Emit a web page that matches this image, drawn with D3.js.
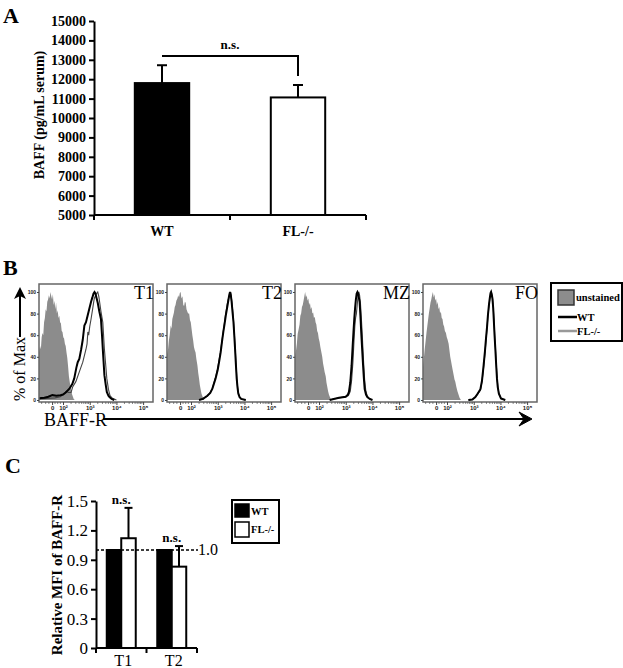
<!DOCTYPE html>
<html><head><meta charset="utf-8">
<script src="https://cdn.jsdelivr.net/npm/d3@7"></script>
<style>body{margin:0;background:#fff} svg{display:block}</style>
</head><body>
<script>
// ---------- Panel A data ----------
const groupsA = ["WT", "FL-/-"];
const baffMean = [11800, 11060];
const baffErr = [920, 640];
const baffTicks = [5000, 6000, 7000, 8000, 9000, 10000, 11000, 12000, 13000, 14000, 15000];

// ---------- Panel B data ([log channel, % of max]) ----------
const subsetsB = ["T1", "T2", "MZ", "FO"];
const flowTickValues = [1.59, 2, 3, 4, 5];
const flowTickLabels = ["0", "10\u00B2", "10\u00B3", "10\u2074", "10\u2075"];
const pctTicks = [0, 20, 40, 60, 80, 100];

const unstainedT1 = [[1.10,0],[1.10,44],[1.14,50],[1.17,47],[1.20,58],[1.23,62],[1.26,60],[1.29,72],[1.32,76],[1.35,84],[1.38,82],[1.41,91],[1.44,93],[1.47,97],[1.50,94],[1.53,100],[1.56,96],[1.59,93],[1.62,98],[1.65,88],[1.68,92],[1.71,84],[1.74,90],[1.77,80],[1.80,83],[1.83,76],[1.86,78],[1.89,72],[1.92,71],[1.95,64],[1.98,63],[2.01,58],[2.04,57],[2.07,52],[2.10,50],[2.13,44],[2.16,39],[2.19,31],[2.22,22],[2.25,17],[2.28,12],[2.31,8],[2.34,5],[2.37,3],[2.40,1],[2.44,0]];
const unstainedT2 = [[1.10,0],[1.10,42],[1.14,47],[1.17,55],[1.20,60],[1.24,69],[1.27,66],[1.30,75],[1.33,78],[1.36,81],[1.39,86],[1.42,88],[1.45,92],[1.49,94],[1.52,97],[1.55,95],[1.58,99],[1.61,100],[1.64,94],[1.68,96],[1.71,88],[1.74,87],[1.77,91],[1.80,90],[1.83,84],[1.86,82],[1.89,80],[1.93,80],[1.96,74],[1.99,72],[2.02,66],[2.05,60],[2.08,55],[2.11,49],[2.14,46],[2.17,44],[2.20,38],[2.24,32],[2.27,25],[2.30,20],[2.33,14],[2.36,10],[2.39,6],[2.42,4],[2.46,1.5],[2.49,0]];
const unstainedMZ = [[1.10,0],[1.10,40],[1.14,46],[1.17,52],[1.20,61],[1.24,66],[1.27,70],[1.30,78],[1.33,80],[1.36,86],[1.39,88],[1.42,92],[1.45,96],[1.48,100],[1.51,95],[1.54,97],[1.57,92],[1.60,94],[1.63,88],[1.66,90],[1.69,84],[1.72,86],[1.75,80],[1.78,81],[1.81,76],[1.84,77],[1.87,72],[1.90,70],[1.93,64],[1.96,62],[1.99,57],[2.02,54],[2.05,49],[2.09,44],[2.12,40],[2.15,34],[2.18,30],[2.21,26],[2.25,22],[2.28,16],[2.31,12],[2.34,8],[2.37,5],[2.41,2.5],[2.44,1],[2.47,0]];
const unstainedFO = [[1.10,0],[1.10,30],[1.13,38],[1.16,46],[1.20,55],[1.23,62],[1.26,68],[1.29,74],[1.32,80],[1.35,85],[1.38,90],[1.41,93],[1.44,97],[1.47,100],[1.50,95],[1.53,98],[1.56,92],[1.59,94],[1.62,88],[1.65,91],[1.68,84],[1.71,86],[1.74,80],[1.77,82],[1.80,76],[1.83,75],[1.86,70],[1.89,68],[1.92,64],[1.96,62],[1.99,58],[2.02,56],[2.06,52],[2.09,46],[2.12,40],[2.15,36],[2.18,32],[2.21,28],[2.25,23],[2.28,19],[2.31,17],[2.35,12],[2.39,8],[2.43,5],[2.47,2],[2.52,0]];

const wtT1 = [[1.10,1.5],[1.30,2],[1.45,3],[1.60,4.5],[1.75,4],[1.90,4.5],[2.00,5],[2.10,7],[2.24,10.5],[2.35,15],[2.42,20],[2.50,30],[2.55,35],[2.61,38],[2.68,47],[2.74,56],[2.80,69],[2.86,72],[2.92,78],[2.98,84],[3.05,91],[3.10,95],[3.14,98.5],[3.18,100],[3.21,99],[3.26,94],[3.30,90],[3.36,82],[3.42,75],[3.46,60],[3.49,47],[3.52,35],[3.55,23],[3.60,14],[3.64,7.5],[3.70,4],[3.74,2.8],[3.82,1],[3.92,0]];
const flT1 = [[1.10,1],[1.40,1.5],[1.70,2],[1.90,3],[2.05,6],[2.12,8],[2.20,7],[2.30,7],[2.36,12],[2.48,17],[2.61,26],[2.74,35],[2.86,47],[2.90,52],[2.93,63],[2.96,60],[3.00,68],[3.05,75],[3.12,86],[3.17,94],[3.24,98],[3.30,100],[3.34,96],[3.37,91],[3.42,82],[3.49,72],[3.55,47],[3.64,20],[3.70,10],[3.76,4],[3.85,1.5],[4.00,0]];
const wtT2 = [[2.30,0],[2.45,1],[2.61,4],[2.72,6.5],[2.80,10.5],[2.92,20],[3.00,28],[3.05,35],[3.11,44],[3.16,54],[3.21,63],[3.26,71],[3.30,78],[3.35,85],[3.39,91],[3.43,97],[3.46,100],[3.49,97],[3.52,91],[3.56,80],[3.59,72],[3.62,60],[3.65,47],[3.68,33],[3.71,20],[3.74,12],[3.77,6],[3.82,2.5],[3.88,1],[4.05,0]];
const flT2 = [[2.30,0],[2.45,1.5],[2.61,3.5],[2.72,7],[2.80,11],[2.92,21],[3.00,30],[3.05,37],[3.11,46],[3.16,55],[3.21,64],[3.26,73],[3.30,80],[3.35,88],[3.39,93],[3.43,96],[3.46,98],[3.49,99],[3.52,93],[3.56,83],[3.59,74],[3.62,62],[3.65,50],[3.68,36],[3.71,23],[3.74,13],[3.77,7],[3.82,3],[3.88,1],[4.05,0]];
const wtMZ = [[2.40,0],[2.55,1],[2.75,2],[3.00,3],[3.08,5],[3.12,7.5],[3.17,16],[3.22,32],[3.26,50],[3.29,63],[3.32,75],[3.35,85],[3.38,93],[3.41,98.5],[3.44,100],[3.46,99],[3.49,95],[3.52,91],[3.55,78],[3.58,63],[3.62,45],[3.65,32],[3.68,20],[3.71,10],[3.76,5],[3.81,2.8],[3.90,1],[4.00,0]];
const flMZ = [[2.40,0],[2.55,1],[2.75,2],[3.00,3],[3.10,4],[3.17,8],[3.22,18],[3.27,35],[3.31,55],[3.34,68],[3.37,76],[3.40,80],[3.43,88],[3.46,96],[3.49,100],[3.52,97],[3.55,90],[3.58,78],[3.62,60],[3.65,44],[3.68,30],[3.71,18],[3.75,9],[3.80,4],[3.86,1.5],[4.00,0]];
const wtFO = [[2.80,0],[2.95,0.5],[3.06,2.8],[3.15,6],[3.25,10],[3.31,18],[3.37,32],[3.42,45],[3.46,57],[3.50,68],[3.53,78],[3.57,88],[3.60,94],[3.63,99],[3.65,100],[3.68,97],[3.70,94],[3.73,85],[3.75,75],[3.78,60],[3.81,47],[3.84,33],[3.87,20],[3.90,12],[3.94,6],[4.02,1.5],[4.18,0]];
const flFO = [[2.80,0],[2.95,0.5],[3.06,2.5],[3.15,5.5],[3.25,9],[3.31,17],[3.37,30],[3.42,43],[3.46,55],[3.50,67],[3.53,77],[3.57,87],[3.60,93],[3.63,98],[3.66,100],[3.68,98],[3.71,93],[3.73,86],[3.76,74],[3.79,58],[3.82,45],[3.85,31],[3.88,19],[3.91,11],[3.95,5],[4.03,1.2],[4.18,0]];

// ---------- Panel C data ----------
const subsetsC = ["T1", "T2"];
const genotypesC = ["WT", "FL-/-"];
const mfiWT = [1.0, 1.0];
const mfiFL = [1.12, 0.83];
const mfiFLErr = [0.31, 0.21];
const mfiTicks = [0, 0.3, 0.6, 0.9, 1.2, 1.5];

const SERIF = "'Liberation Serif','Times New Roman',serif";
const SANS = "'Liberation Sans',Arial,sans-serif";

const svg = d3.select("body").append("svg").attr("width", 623).attr("height", 668);
svg.append("rect").attr("width", 623).attr("height", 668).attr("fill", "#fff");

// ================= Panel A =================
const gA = svg.append("g");
gA.append("text").attr("x", 3).attr("y", 23).text("A")
  .attr("font-family", SERIF).attr("font-weight", "bold").attr("font-size", 22);

const yA = d3.scaleLinear().domain([5000, 15000]).range([215, 21]);
const xA = d3.scaleBand().domain(groupsA).range([94, 366]);
const barWA = xA.bandwidth() * 0.4;

const axYA = gA.append("g").attr("transform", "translate(94,0)")
  .call(d3.axisLeft(yA).tickValues(baffTicks).tickSize(5).tickSizeOuter(0).tickPadding(3).tickFormat(d3.format("d")));
axYA.selectAll("text").attr("font-family", SERIF).attr("font-weight", "bold").attr("font-size", 14).attr("fill", "#000");
axYA.selectAll("line").attr("stroke-width", 2);
axYA.select(".domain").attr("stroke-width", 2);

gA.selectAll("rect.barA").data(groupsA).enter().append("rect")
  .attr("x", d => xA(d) + xA.bandwidth() / 2 - barWA / 2)
  .attr("y", (d, i) => yA(baffMean[i]))
  .attr("width", barWA)
  .attr("height", (d, i) => yA(5000) - yA(baffMean[i]))
  .attr("fill", (d, i) => i === 0 ? "#000" : "#fff")
  .attr("stroke", "#000").attr("stroke-width", 2);

// error bars A
groupsA.forEach((d, i) => {
  const cx = xA(d) + xA.bandwidth() / 2;
  gA.append("line").attr("x1", cx).attr("x2", cx).attr("y1", yA(baffMean[i])).attr("y2", yA(baffMean[i] + baffErr[i]))
    .attr("stroke", "#000").attr("stroke-width", 2);
  gA.append("line").attr("x1", cx - 5).attr("x2", cx + 5).attr("y1", yA(baffMean[i] + baffErr[i])).attr("y2", yA(baffMean[i] + baffErr[i]))
    .attr("stroke", "#000").attr("stroke-width", 2);
});

// x axis A
gA.append("line").attr("x1", 94).attr("x2", 366).attr("y1", yA(5000)).attr("y2", yA(5000)).attr("stroke", "#000").attr("stroke-width", 2);
[xA.range()[0], xA("FL-/-"), xA.range()[1]].forEach(x => {
  gA.append("line").attr("x1", x).attr("x2", x).attr("y1", yA(5000)).attr("y2", yA(5000) + 5).attr("stroke", "#000").attr("stroke-width", 2);
});
gA.selectAll("text.xlabA").data(groupsA).enter().append("text")
  .attr("x", d => xA(d) + xA.bandwidth() / 2).attr("y", 236)
  .attr("text-anchor", "middle").attr("font-family", SERIF).attr("font-weight", "bold").attr("font-size", 14)
  .text(d => d);

// significance bracket
const brY = 56;
const cxW = xA("WT") + xA.bandwidth() / 2, cxF = xA("FL-/-") + xA.bandwidth() / 2;
gA.append("path").attr("d", `M${cxW},${brY}H${cxF}V${brY + 20}`).attr("fill", "none").attr("stroke", "#000").attr("stroke-width", 2);
gA.append("text").attr("x", (cxW + cxF) / 2).attr("y", brY - 7).attr("text-anchor", "middle")
  .attr("font-family", SERIF).attr("font-weight", "bold").attr("font-size", 13).text("n.s.");

gA.append("text").attr("transform", "translate(44,115) rotate(-90)").attr("text-anchor", "middle")
  .attr("font-family", SERIF).attr("font-weight", "bold").attr("font-size", 14).text("BAFF (pg/mL serum)");

// ================= Panel B =================
const gB = svg.append("g");
gB.append("text").attr("x", 3).attr("y", 275).text("B")
  .attr("font-family", SERIF).attr("font-weight", "bold").attr("font-size", 22);

const histB = [
  { name: subsetsB[0], unst: unstainedT1, wt: wtT1, fl: flT1 },
  { name: subsetsB[1], unst: unstainedT2, wt: wtT2, fl: flT2 },
  { name: subsetsB[2], unst: unstainedMZ, wt: wtMZ, fl: flMZ },
  { name: subsetsB[3], unst: unstainedFO, wt: wtFO, fl: flFO }
];
const panelW = 114, boxTop = 284, boxBot = 402;
const yB = d3.scaleLinear().domain([0, 100]).range([400, 292]);
const minorTicks = [1.2, 1.35, 1.47, 1.7, 1.8, 1.9];
[2, 3, 4].forEach(dd => { for (let k = 2; k <= 9; k++) minorTicks.push(dd + Math.log10(k)); });

histB.forEach((h, i) => {
  const left = 39 + i * 128;
  const xB = d3.scaleLinear().domain([1.1, 5.37]).range([left, left + panelW]);
  const g = gB.append("g");
  const clipId = "clip" + i;
  svg.append("clipPath").attr("id", clipId).append("rect")
    .attr("x", left).attr("y", boxTop).attr("width", panelW).attr("height", boxBot - boxTop);
  const inner = g.append("g").attr("clip-path", `url(#${clipId})`);
  const area = d3.area().x(d => xB(d[0])).y0(yB(0)).y1(d => yB(d[1]));
  const line = d3.line().x(d => xB(d[0])).y(d => yB(d[1]));
  inner.append("path").datum(h.unst).attr("d", area).attr("fill", "#8c8c8c");
  inner.append("path").datum(h.fl).attr("d", line).attr("fill", "none").attr("stroke", "#444").attr("stroke-width", 1.1);
  inner.append("path").datum(h.wt).attr("d", line).attr("fill", "none").attr("stroke", "#000").attr("stroke-width", 2);
  g.append("rect").attr("x", left).attr("y", boxTop).attr("width", panelW).attr("height", boxBot - boxTop)
    .attr("fill", "none").attr("stroke", "#666").attr("stroke-width", 1.5);
  // x ticks
  const axX = g.append("g").attr("transform", `translate(0,${boxBot})`)
    .call(d3.axisBottom(xB).tickValues(flowTickValues).tickSize(3).tickPadding(1).tickFormat((d, j) => flowTickLabels[j]));
  axX.select(".domain").remove();
  axX.selectAll("line").attr("stroke", "#444");
  axX.selectAll("text").attr("font-family", SANS).attr("font-weight", "bold").attr("font-size", 6).attr("fill", "#222");
  g.selectAll("line.minor").data(minorTicks).enter().append("line")
    .attr("x1", d => xB(d)).attr("x2", d => xB(d)).attr("y1", boxBot).attr("y2", boxBot + 2)
    .attr("stroke", "#555").attr("stroke-width", 0.7);
  // y ticks
  const axY = g.append("g").attr("transform", `translate(${left},0)`)
    .call(d3.axisLeft(yB).tickValues(pctTicks).tickSize(2).tickPadding(1));
  axY.select(".domain").remove();
  axY.selectAll("line").attr("stroke", "#444");
  axY.selectAll("text").attr("font-family", SANS).attr("font-weight", "bold").attr("font-size", 5).attr("fill", "#222");
  g.append("text").attr("x", left + panelW + 1).attr("y", 299).attr("text-anchor", "end")
    .attr("font-family", SERIF).attr("font-size", 18).text(h.name);
});

// % of Max label + arrow
gB.append("text").attr("transform", "translate(25,369) rotate(-90)").attr("text-anchor", "middle")
  .attr("font-family", SERIF).attr("font-size", 16).text("% of Max");
gB.append("line").attr("x1", 20).attr("x2", 20).attr("y1", 337).attr("y2", 296).attr("stroke", "#000").attr("stroke-width", 2);
gB.append("path").attr("d", "M20,287 L26,299 L20,296 L14,299 Z").attr("fill", "#000");

// BAFF-R label + arrow
gB.append("text").attr("x", 44).attr("y", 426).attr("font-family", SERIF).attr("font-size", 18).text("BAFF-R");
gB.append("line").attr("x1", 103).attr("x2", 526).attr("y1", 419).attr("y2", 419).attr("stroke", "#000").attr("stroke-width", 2);
gB.append("path").attr("d", "M532,419 L519,412 L524,419 L519,426 Z").attr("fill", "#000").attr("stroke", "#000").attr("stroke-width", 1);

// legend B
const lgB = gB.append("g");
lgB.append("rect").attr("x", 551).attr("y", 283).attr("width", 71).attr("height", 58).attr("fill", "#fff").attr("stroke", "#000").attr("stroke-width", 2);
lgB.append("rect").attr("x", 558).attr("y", 290).attr("width", 16).attr("height", 15).attr("fill", "#8c8c8c").attr("stroke", "#333").attr("stroke-width", 1.5);
lgB.append("text").attr("x", 576).attr("y", 301).attr("font-family", SERIF).attr("font-weight", "bold").attr("font-size", 10.5).text("unstained");
lgB.append("line").attr("x1", 558).attr("x2", 577).attr("y1", 317).attr("y2", 317).attr("stroke", "#000").attr("stroke-width", 2.5);
lgB.append("text").attr("x", 577).attr("y", 321).attr("font-family", SERIF).attr("font-weight", "bold").attr("font-size", 10.5).text("WT");
lgB.append("line").attr("x1", 558).attr("x2", 577).attr("y1", 331).attr("y2", 331).attr("stroke", "#999").attr("stroke-width", 2.5);
lgB.append("text").attr("x", 577).attr("y", 335).attr("font-family", SERIF).attr("font-weight", "bold").attr("font-size", 10.5).text("FL-/-");

// ================= Panel C =================
const gC = svg.append("g");
gC.append("text").attr("x", 5).attr("y", 473).text("C")
  .attr("font-family", SERIF).attr("font-weight", "bold").attr("font-size", 22);

const yC = d3.scaleLinear().domain([0, 1.5]).range([648, 501]);
const xC = d3.scaleBand().domain(subsetsC).range([96, 197]).paddingInner(0.426).paddingOuter(0.213);
const xSub = d3.scaleBand().domain(genotypesC).range([0, xC.bandwidth()]);

const axYC = gC.append("g").attr("transform", "translate(96,0)")
  .call(d3.axisLeft(yC).tickValues(mfiTicks).tickSize(5).tickSizeOuter(0).tickPadding(3).tickFormat(d => d === 0 ? "0" : d3.format(".1f")(d)));
axYC.selectAll("text").attr("font-family", SERIF).attr("font-size", 17).attr("fill", "#000");
axYC.selectAll("line").attr("stroke-width", 2);
axYC.select(".domain").attr("stroke-width", 2);

const mfiSeries = [mfiWT, mfiFL];
genotypesC.forEach((gt, gi) => {
  gC.selectAll("rect.bc" + gi).data(subsetsC).enter().append("rect")
    .attr("x", d => xC(d) + xSub(gt))
    .attr("y", (d, i) => yC(mfiSeries[gi][i]))
    .attr("width", xSub.bandwidth())
    .attr("height", (d, i) => yC(0) - yC(mfiSeries[gi][i]))
    .attr("fill", gi === 0 ? "#000" : "#fff").attr("stroke", "#000").attr("stroke-width", 2);
});
subsetsC.forEach((s, i) => {
  const cx = xC(s) + xSub("FL-/-") + xSub.bandwidth() / 2;
  const top = yC(mfiFL[i] + mfiFLErr[i]);
  gC.append("line").attr("x1", cx).attr("x2", cx).attr("y1", yC(mfiFL[i])).attr("y2", top).attr("stroke", "#000").attr("stroke-width", 2);
  gC.append("line").attr("x1", cx - 4).attr("x2", cx + 4).attr("y1", top).attr("y2", top).attr("stroke", "#000").attr("stroke-width", 2);
  gC.append("text").attr("x", xC(s) + xC.bandwidth() / 2).attr("y", i === 0 ? yC(1.5) + 3 : top - 4)
    .attr("text-anchor", "middle").attr("font-family", SERIF).attr("font-weight", "bold").attr("font-size", 13).text("n.s.");
});

// dashed reference line at 1.0
gC.append("line").attr("x1", 96).attr("x2", 198).attr("y1", yC(1.0)).attr("y2", yC(1.0))
  .attr("stroke", "#000").attr("stroke-width", 1.3).attr("stroke-dasharray", "3,2");
gC.append("text").attr("x", 198).attr("y", yC(1.0) + 5).attr("font-family", SERIF).attr("font-size", 16).text("1.0");

// x axis C
gC.append("line").attr("x1", 96).attr("x2", 197).attr("y1", yC(0)).attr("y2", yC(0)).attr("stroke", "#000").attr("stroke-width", 2);
[96, xC("T2") - xC.step() * xC.paddingInner() / 2, 197].forEach(x => {
  gC.append("line").attr("x1", x).attr("x2", x).attr("y1", yC(0)).attr("y2", yC(0) + 5).attr("stroke", "#000").attr("stroke-width", 2);
});
gC.selectAll("text.xlabC").data(subsetsC).enter().append("text")
  .attr("x", d => xC(d) + xC.bandwidth() / 2 + 2).attr("y", 666).attr("text-anchor", "middle")
  .attr("font-family", SERIF).attr("font-size", 16).text(d => d);

gC.append("text").attr("transform", "translate(62,575) rotate(-90)").attr("text-anchor", "middle")
  .attr("font-family", SERIF).attr("font-weight", "bold").attr("font-size", 15).text("Relative MFI of BAFF-R");

// legend C
const lgC = gC.append("g");
lgC.append("rect").attr("x", 232).attr("y", 500).attr("width", 47).attr("height", 43).attr("fill", "#fff").attr("stroke", "#000").attr("stroke-width", 2);
lgC.append("rect").attr("x", 235).attr("y", 504).attr("width", 14).attr("height", 13).attr("fill", "#000").attr("stroke", "#000").attr("stroke-width", 1.5);
lgC.append("text").attr("x", 251).attr("y", 515).attr("font-family", SERIF).attr("font-weight", "bold").attr("font-size", 10.5).text("WT");
lgC.append("rect").attr("x", 235).attr("y", 522).attr("width", 14).attr("height", 15).attr("fill", "#fff").attr("stroke", "#000").attr("stroke-width", 1.5);
lgC.append("text").attr("x", 251).attr("y", 533).attr("font-family", SERIF).attr("font-weight", "bold").attr("font-size", 10.5).text("FL-/-");
</script>
</body></html>
